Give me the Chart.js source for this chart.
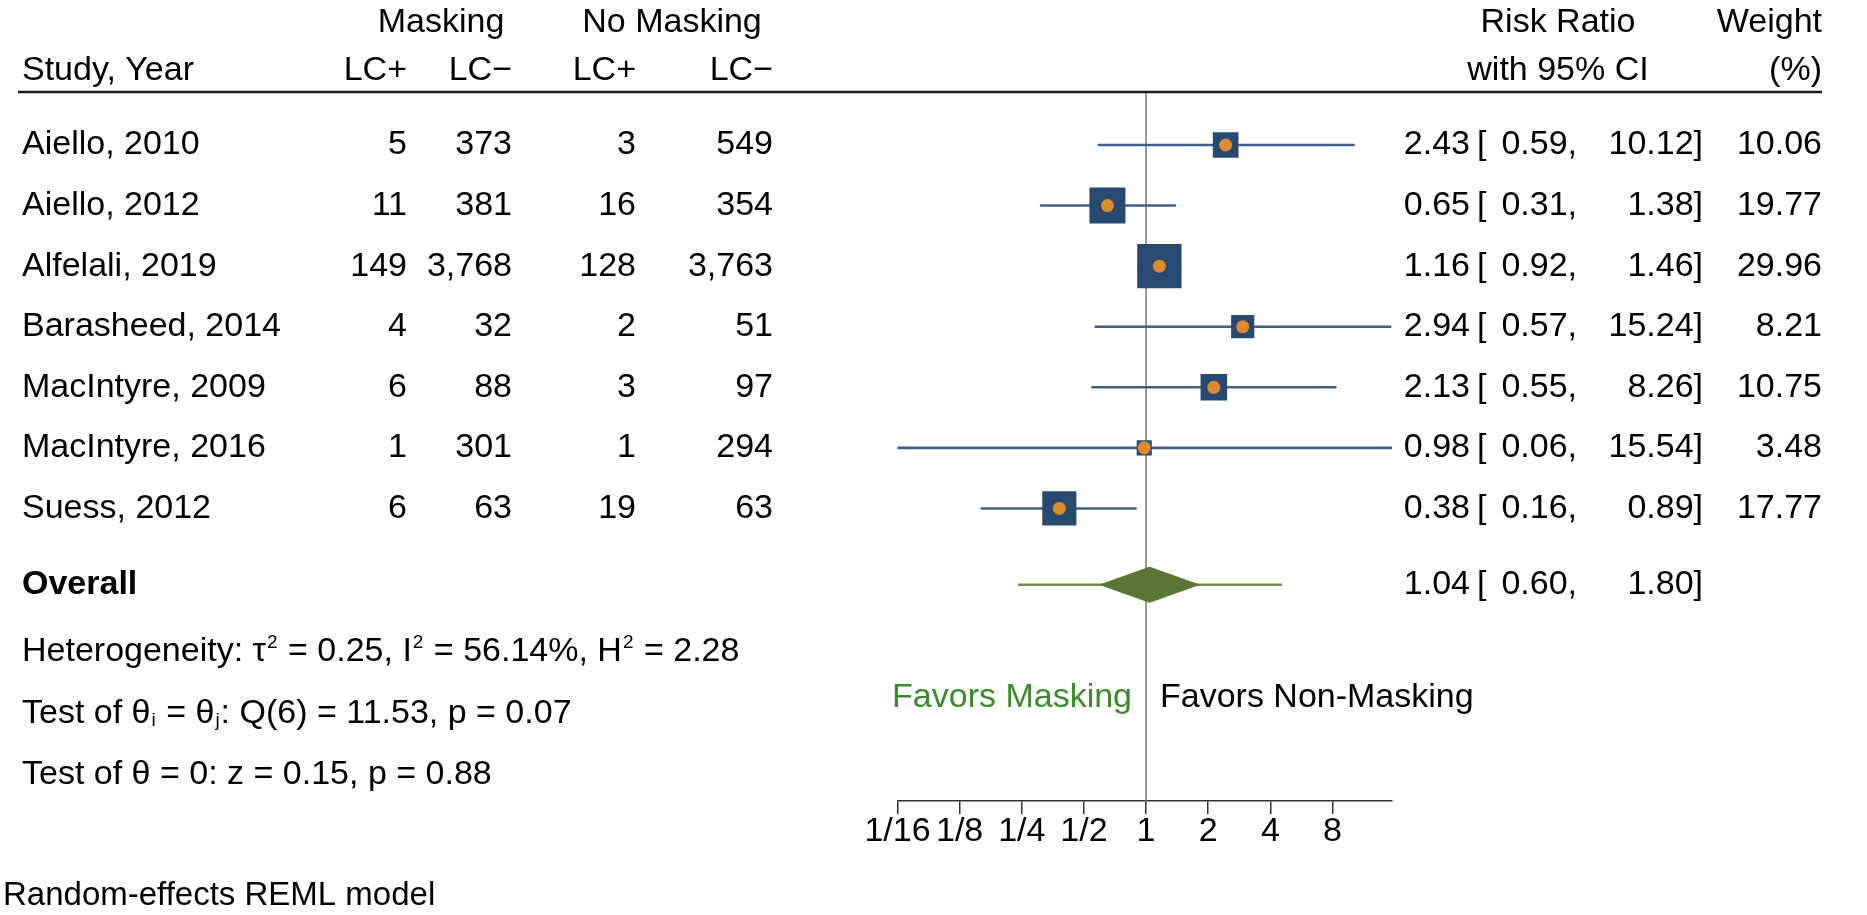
<!DOCTYPE html>
<html>
<head>
<meta charset="utf-8">
<script src="https://cdn.jsdelivr.net/npm/chart.js@4.4.1/dist/chart.umd.min.js"></script>
<style>
html,body{margin:0;padding:0;background:#fff;}
#wrap{width:1867px;height:915px;position:relative;}
</style>
</head>
<body>
<div id="wrap"><canvas id="c"></canvas></div>
<script>
// ---- data ----
const studies = ['Aiello, 2010','Aiello, 2012','Alfelali, 2019','Barasheed, 2014','MacIntyre, 2009','MacIntyre, 2016','Suess, 2012'];
const maskPos = [5, 11, 149, 4, 6, 1, 6];
const maskNeg = [373, 381, 3768, 32, 88, 301, 63];
const noMaskPos = [3, 16, 128, 2, 3, 1, 19];
const noMaskNeg = [549, 354, 3763, 51, 97, 294, 63];
const riskRatio = [2.43, 0.65, 1.16, 2.94, 2.13, 0.98, 0.38];
const ciLow = [0.59, 0.31, 0.92, 0.57, 0.55, 0.06, 0.16];
const ciHigh = [10.12, 1.38, 1.46, 15.24, 8.26, 15.54, 0.89];
const weights = [10.06, 19.77, 29.96, 8.21, 10.75, 3.48, 17.77];
const overallRR = [1.04];
const overallCI = [0.60, 1.80];
const predictionInterval = [0.24, 4.55];
const tickValues = [1/16, 1/8, 1/4, 1/2, 1, 2, 4, 8];
const tickLabels = ['1/16', '1/8', '1/4', '1/2', '1', '2', '4', '8'];
const statLines = [
  [{t:'Heterogeneity: \u03C4'},{t:'2',sup:true},{t:' = 0.25, I'},{t:'2',sup:true},{t:' = 56.14%, H'},{t:'2',sup:true},{t:' = 2.28'}],
  [{t:'Test of \u03B8'},{t:'i',sub:true},{t:' = \u03B8'},{t:'j',sub:true},{t:': Q(6) = 11.53, p = 0.07'}],
  [{t:'Test of \u03B8 = 0: z = 0.15, p = 0.88'}]
];
const noteText = 'Random-effects REML model';
const favorsLeft = 'Favors Masking';
const favorsRight = 'Favors Non-Masking';

// ---- layout / style ----
const FONT = '"Liberation Sans", Arial, Helvetica, sans-serif';
const FS = 34;
const L2 = v => Math.log2(v);
const overallRow = studies.length + 0.26;
const diamondHalf = 0.29;
const sqK = 8.1;
const blue = '#284a70', ciBlue = '#3f5f88', orange = '#e08a2e', green = '#5b7634', greenLine = '#6f8f45';

const fmt = n => n.toLocaleString('en-US');

const textPlugin = {
  id: 'forestText',
  afterDraw(chart) {
    const ctx = chart.ctx;
    const ys = chart.scales.y;
    ctx.save();
    ctx.fillStyle = '#000';
    ctx.textBaseline = 'middle';
    function t(s, x, y, align, opts) {
      opts = opts || {};
      ctx.font = (opts.bold ? 'bold ' : '') + (opts.size || FS) + 'px ' + FONT;
      ctx.fillStyle = opts.color || '#000';
      ctx.textAlign = align || 'left';
      ctx.fillText(s, x, y);
    }
    function rich(parts, x, y) {
      ctx.textAlign = 'left';
      ctx.fillStyle = '#000';
      let cx = x;
      parts.forEach(p => {
        if (p.sup || p.sub) {
          ctx.font = '19px ' + FONT;
          ctx.fillText(p.t, cx + 1, y + (p.sup ? -9 : 7));
          cx += ctx.measureText(p.t).width + 2;
        } else {
          ctx.font = FS + 'px ' + FONT;
          ctx.fillText(p.t, cx, y);
          cx += ctx.measureText(p.t).width;
        }
      });
    }
    const colR = [407, 512, 636, 773];
    const h1 = 23, h2 = 71;
    // headers
    t('Masking', 441, h1, 'center');
    t('No Masking', 672, h1, 'center');
    t('Risk Ratio', 1558, h1, 'center');
    t('Weight', 1822, h1, 'right');
    t('Study, Year', 22, h2, 'left');
    t('LC+', colR[0], h2, 'right');
    t('LC\u2212', colR[1], h2, 'right');
    t('LC+', colR[2], h2, 'right');
    t('LC\u2212', colR[3], h2, 'right');
    t('with 95% CI', 1558, h2, 'center');
    t('(%)', 1822, h2, 'right');
    // rule
    ctx.strokeStyle = '#1a1a1a';
    ctx.lineWidth = 2.5;
    ctx.beginPath(); ctx.moveTo(18, 92); ctx.lineTo(1822, 92); ctx.stroke();

    function rrText(y, est, lo, hi) {
      t(est.toFixed(2), 1470, y, 'right');
      t('[', 1477, y, 'left');
      t(lo.toFixed(2) + ',', 1577, y, 'right');
      t(hi.toFixed(2) + ']', 1703, y, 'right');
    }
    studies.forEach((s, i) => {
      const y = ys.getPixelForValue(i);
      t(s, 22, y, 'left');
      t(fmt(maskPos[i]), colR[0], y, 'right');
      t(fmt(maskNeg[i]), colR[1], y, 'right');
      t(fmt(noMaskPos[i]), colR[2], y, 'right');
      t(fmt(noMaskNeg[i]), colR[3], y, 'right');
      rrText(y, riskRatio[i], ciLow[i], ciHigh[i]);
      t(weights[i].toFixed(2), 1822, y, 'right');
    });
    const oy = ys.getPixelForValue(overallRow);
    t('Overall', 22, oy, 'left', {bold: true});
    rrText(oy, overallRR[0], overallCI[0], overallCI[1]);
    const statY = [652, 714, 775];
    statLines.forEach((ln, i) => rich(ln, 22, statY[i]));
    t(favorsLeft, 1132, 698, 'right', {color: '#3b8a2c'});
    t(favorsRight, 1160, 698, 'left');
    t(noteText, 3, 896, 'left', {size: 33});
    ctx.restore();
  }
};

const datasets = [];
datasets.push({
  type: 'scatter', label: 'estimate',
  data: riskRatio.map((v, i) => ({x: L2(v), y: i})),
  pointStyle: 'circle', pointRadius: 6.5, pointBorderWidth: 0,
  backgroundColor: orange, borderColor: orange
});
datasets.push({
  type: 'scatter', label: 'weight',
  data: riskRatio.map((v, i) => ({x: L2(v), y: i})),
  pointStyle: 'rect', pointBorderWidth: 0,
  pointRadius: ctx => sqK * Math.sqrt(weights[ctx.dataIndex]) / Math.SQRT2,
  backgroundColor: blue, borderColor: blue
});
studies.forEach((s, i) => {
  datasets.push({
    type: 'line', label: 'ci' + i, showLine: true,
    data: [{x: L2(ciLow[i]), y: i}, {x: L2(ciHigh[i]), y: i}],
    borderColor: ciBlue, borderWidth: 2.6, pointRadius: 0, borderCapStyle: 'round', fill: false
  });
});
datasets.push({
  type: 'line', label: 'diamond', showLine: true,
  data: [
    {x: L2(overallCI[0]), y: overallRow},
    {x: L2(overallRR[0]), y: overallRow - diamondHalf},
    {x: L2(overallCI[1]), y: overallRow},
    {x: L2(overallRR[0]), y: overallRow + diamondHalf},
    {x: L2(overallCI[0]), y: overallRow}
  ],
  borderColor: green, backgroundColor: green, borderWidth: 1, pointRadius: 0, fill: 'shape', tension: 0
});
datasets.push({
  type: 'line', label: 'pi', showLine: true,
  data: [{x: L2(predictionInterval[0]), y: overallRow}, {x: L2(predictionInterval[1]), y: overallRow}],
  borderColor: greenLine, borderWidth: 2.6, pointRadius: 0, fill: false
});
const yMin = -0.875, yMax = 10.83;
datasets.push({
  type: 'line', label: 'ref', showLine: true,
  data: [{x: 0, y: yMin}, {x: 0, y: yMax}],
  borderColor: '#808080', borderWidth: 1.6, pointRadius: 0, fill: false
});

new Chart(document.getElementById('c'), {
  type: 'scatter',
  data: {datasets},
  options: {
    responsive: true, maintainAspectRatio: false, animation: false,
    layout: {padding: {left: 897.5, right: 475, top: 92, bottom: 0}},
    plugins: {legend: {display: false}, tooltip: {enabled: false}},
    events: [],
    scales: {
      x: {
        type: 'linear', position: 'bottom',
        min: L2(tickValues[0]), max: L2(Math.max(...ciHigh)),
        afterBuildTicks: s => { s.ticks = tickValues.map(v => ({value: L2(v)})); },
        afterFit: s => { s.height = 114; },
        ticks: {
          callback: (v, i) => tickLabels[i], autoSkip: false, maxRotation: 0,
          font: {size: FS, family: FONT}, color: '#000', padding: -3
        },
        grid: {drawOnChartArea: false, drawTicks: true, tickLength: 13, color: '#333', lineWidth: 1.5},
        border: {display: true, color: '#333', width: 1.5}
      },
      y: {
        type: 'linear', reverse: true, min: yMin, max: yMax, display: false
      }
    }
  },
  plugins: [textPlugin]
});
</script>
</body>
</html>
